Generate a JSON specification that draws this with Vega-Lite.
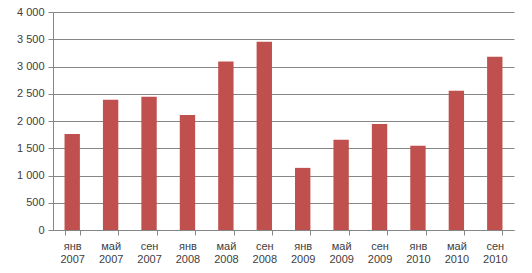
{
  "$schema": "https://vega.github.io/schema/vega-lite/v6.json",
  "width": 461,
  "height": 218,
  "autosize": "none",
  "padding": {"left": 53, "top": 12, "right": 18, "bottom": 43},
  "background": "white",
  "data": {"values": [
    {"period": "янв 2007", "value": 1760},
    {"period": "май 2007", "value": 2390},
    {"period": "сен 2007", "value": 2445},
    {"period": "янв 2008", "value": 2110},
    {"period": "май 2008", "value": 3090},
    {"period": "сен 2008", "value": 3455},
    {"period": "янв 2009", "value": 1140},
    {"period": "май 2009", "value": 1655},
    {"period": "сен 2009", "value": 1945},
    {"period": "янв 2010", "value": 1545},
    {"period": "май 2010", "value": 2555},
    {"period": "сен 2010", "value": 3180}
  ]},
  "mark": {"type": "bar", "color": "#C0504D"},
  "encoding": {
    "x": {
      "field": "period", "type": "nominal", "sort": null,
      "scale": {"paddingInner": 0.6, "paddingOuter": 0.3},
      "axis": {
        "title": null, "labelAngle": 0, "tickBand": "extent",
        "labelExpr": "split(datum.label, ' ')",
        "labelFont": "Liberation Sans", "labelFontSize": 11, "labelColor": "#404040",
        "labelLineHeight": 13, "labelPadding": 5,
        "domainColor": "#868686", "tickColor": "#868686", "tickSize": 5
      }
    },
    "y": {
      "field": "value", "type": "quantitative",
      "scale": {"domain": [0, 4000], "nice": false},
      "axis": {
        "title": null, "values": [0, 500, 1000, 1500, 2000, 2500, 3000, 3500, 4000],
        "labelExpr": "replace(format(datum.value, ','), ',', ' ')",
        "labelFont": "Liberation Sans", "labelFontSize": 11, "labelColor": "#404040",
        "labelPadding": 4,
        "grid": true, "gridColor": "#868686", "gridWidth": 1,
        "domainColor": "#868686", "tickColor": "#868686", "tickSize": 5
      }
    }
  },
  "config": {"view": {"stroke": null}}
}
